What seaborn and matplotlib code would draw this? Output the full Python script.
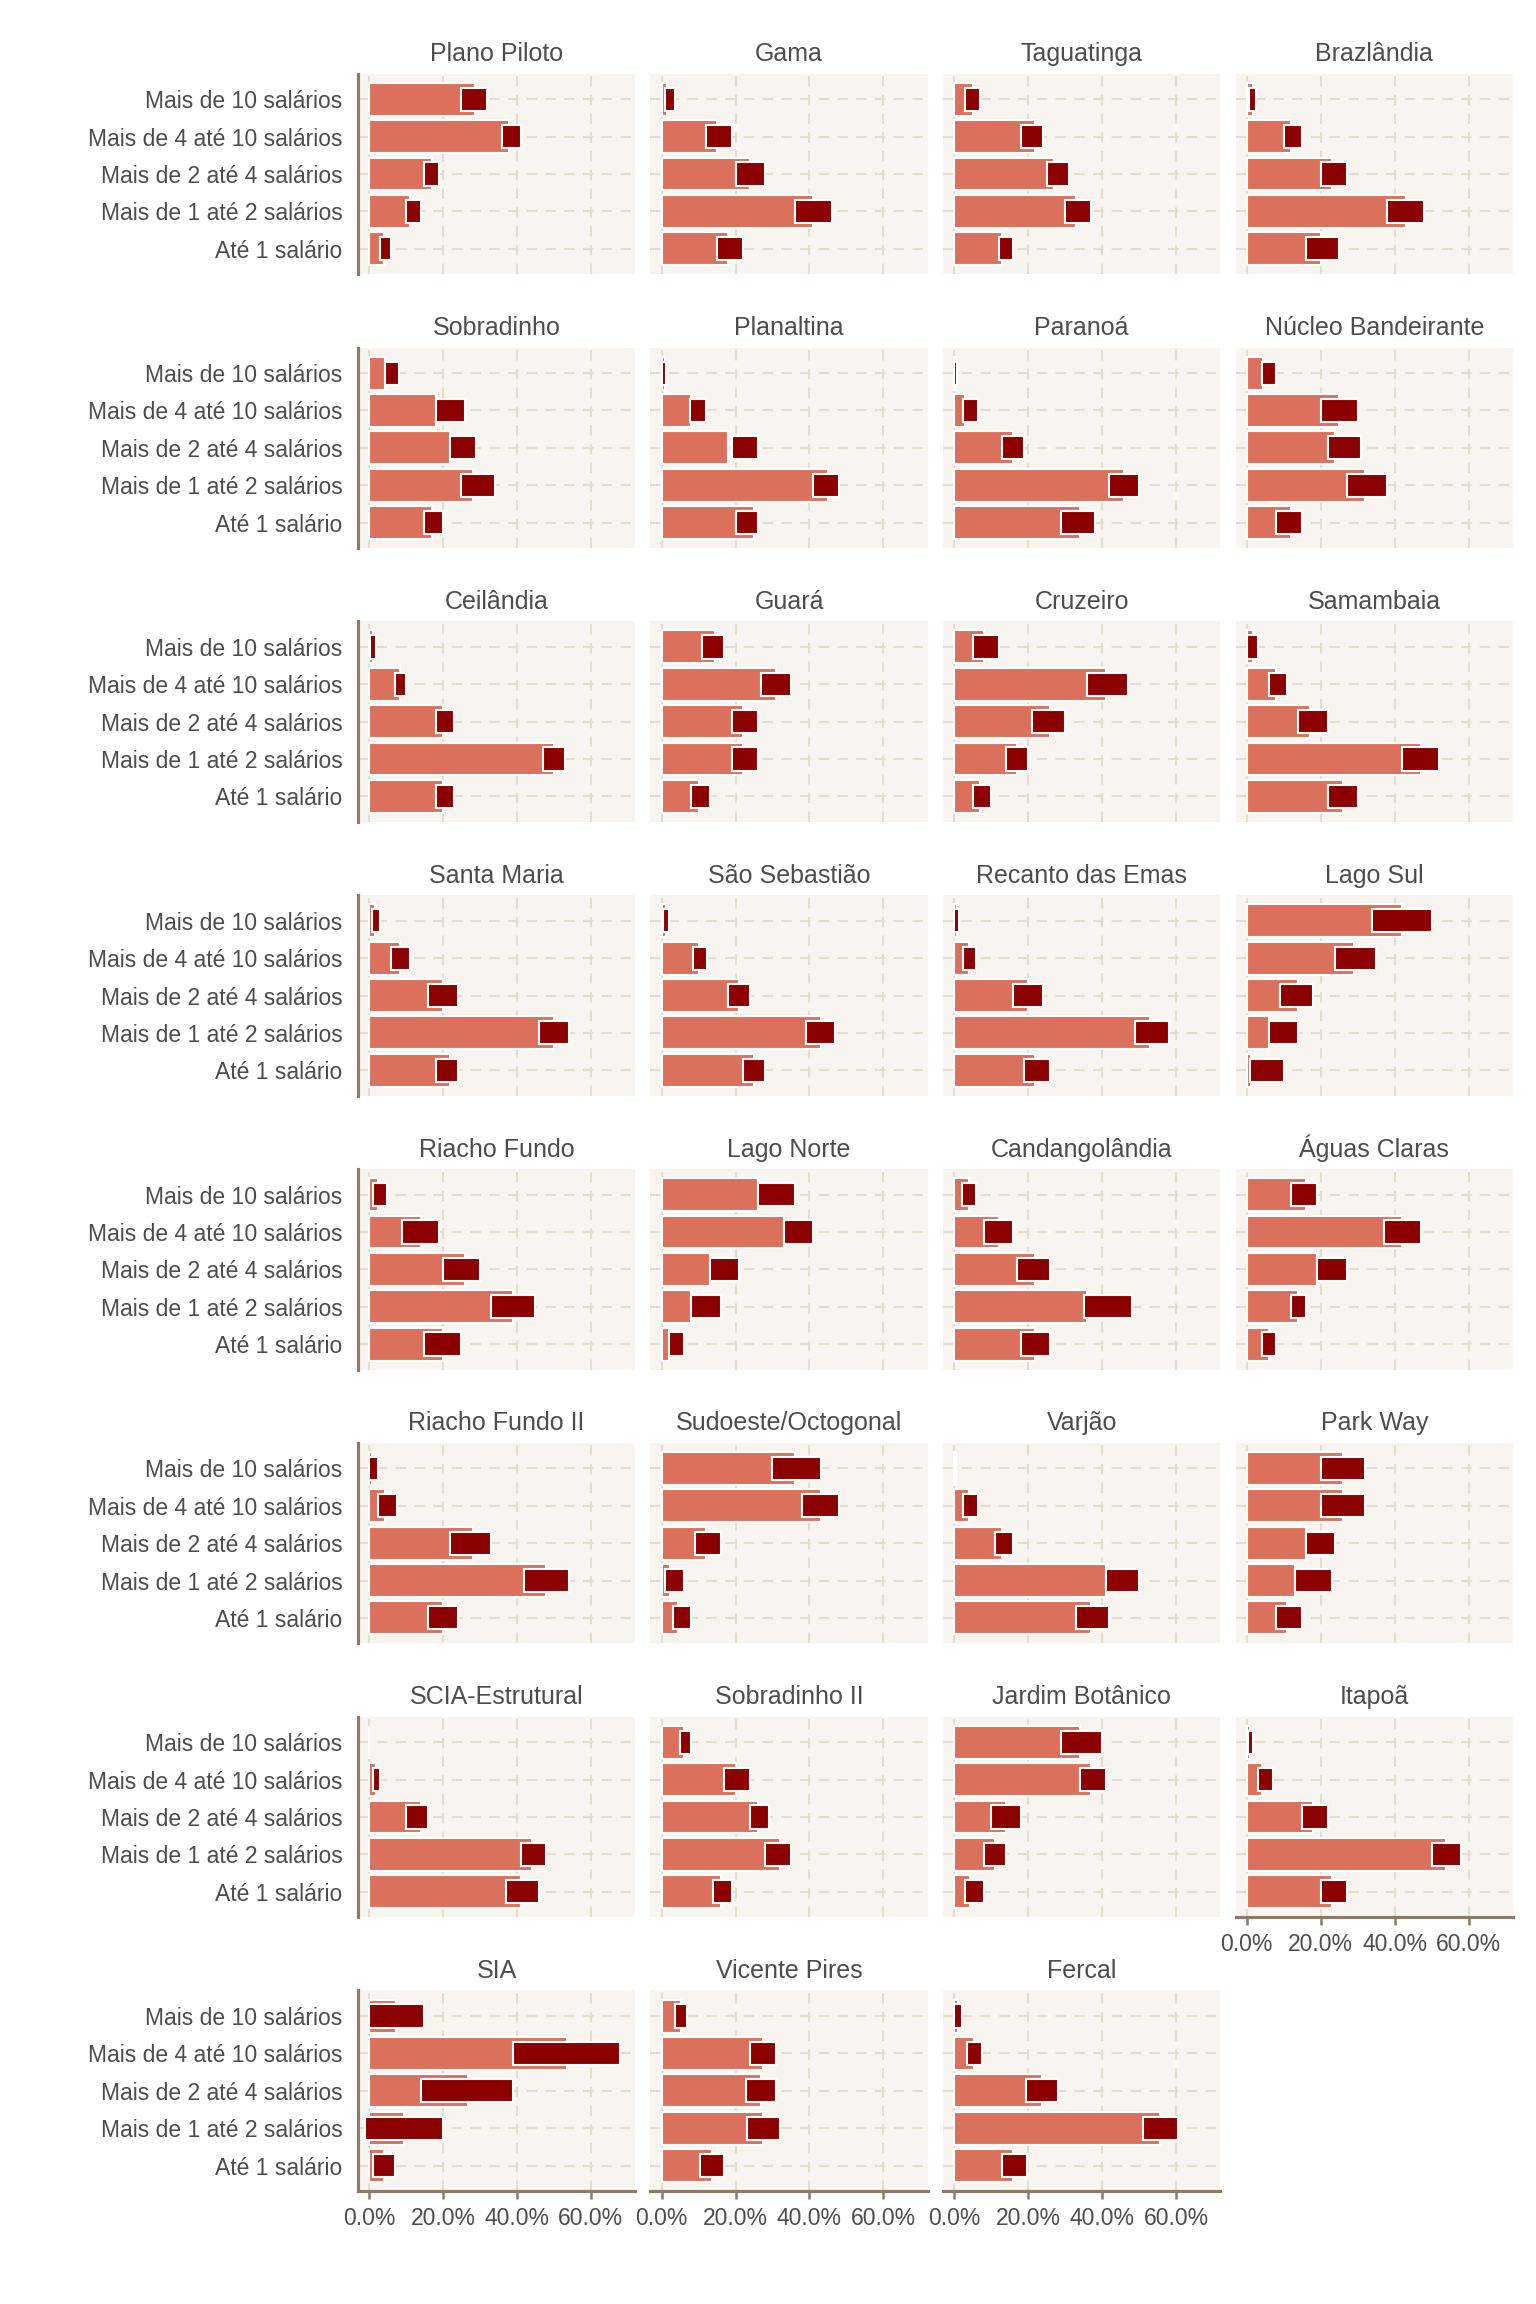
import pandas as pd
import seaborn as sns
import matplotlib.pyplot as plt
from matplotlib.ticker import FuncFormatter

# faixas de renda (de cima para baixo no gráfico)
faixas = ["Mais de 10 salários", "Mais de 4 até 10 salários", "Mais de 2 até 4 salários",
          "Mais de 1 até 2 salários", "Até 1 salário"]

regioes = ["Plano Piloto", "Gama", "Taguatinga", "Brazlândia",
           "Sobradinho", "Planaltina", "Paranoá", "Núcleo Bandeirante",
           "Ceilândia", "Guará", "Cruzeiro", "Samambaia",
           "Santa Maria", "São Sebastião", "Recanto das Emas", "Lago Sul",
           "Riacho Fundo", "Lago Norte", "Candangolândia", "Águas Claras",
           "Riacho Fundo II", "Sudoeste/Octogonal", "Varjão", "Park Way",
           "SCIA-Estrutural", "Sobradinho II", "Jardim Botânico", "Itapoã",
           "SIA", "Vicente Pires", "Fercal"]

# proporção estimada (%), mesma ordem de faixas
prop = [
    [28.8, 38, 17, 11, 4], [1.6, 15, 24, 41, 18], [5, 22, 27, 33, 13], [1.6, 12, 23, 43, 20],
    [4.4, 18, 22, 28, 17], [0.8, 8, 18, 45, 25], [0.4, 3, 16, 46, 34], [4.4, 25, 24, 32, 12],
    [1.2, 8.4, 20, 50, 20], [14.4, 31, 22, 22, 10], [8, 41, 26, 17, 7], [1.6, 8, 17, 47, 26],
    [1.6, 8.4, 20, 50, 22], [1.2, 10, 21, 43, 25], [0.8, 4, 20, 53, 22], [42, 29, 14, 6, 1.2],
    [2.4, 14, 26, 39, 20], [26, 33, 13, 8, 2], [4, 12, 22, 36, 22], [16, 42, 19, 14, 6],
    [0.8, 4.4, 28, 48, 20], [36, 43, 12, 2.4, 4.4], [0.4, 4, 13, 41, 37], [26, 26, 16, 13, 11],
    [0, 2, 14, 44, 41], [6, 20, 26, 32, 16], [34, 37, 14, 11, 4.4], [0.8, 4, 18, 54, 23],
    [7.2, 53.6, 26.7, 9.6, 4], [5.3, 27.5, 27, 27.5, 13.6], [1, 5.3, 23.7, 55.7, 16],
]
# limite inferior do intervalo (%)
ic_inf = [
    [25, 36, 15, 10, 3], [1, 12, 20, 36, 15], [3, 18, 25, 30, 12], [0.5, 10, 20, 38, 16],
    [4.4, 18, 22, 25, 15], [0, 7.6, 19, 41, 20], [0, 2.4, 13, 42, 29], [4, 20, 22, 27, 8],
    [0.4, 7, 18, 47, 18], [11, 27, 19, 19, 8], [5, 36, 21, 14, 5], [0, 6, 14, 42, 22],
    [0.8, 6, 16, 46, 18], [0.4, 8.4, 18, 39, 22], [0, 2.4, 16, 49, 19], [34, 24, 9, 6, 1],
    [1, 9, 20, 33, 15], [26, 33, 13, 8, 2], [2, 8, 17, 35, 18], [12, 37, 19, 12, 4],
    [0, 2.4, 22, 42, 16], [30, 38, 9, 1, 3], [0, 2.4, 11, 41, 33], [20, 20, 16, 13, 8],
    [0, 1, 10, 41, 37], [5, 17, 24, 28, 14], [29, 34, 10, 8, 3], [0.4, 3, 15, 50, 20],
    [0, 39, 14, -1, 1], [3.7, 24, 22.7, 23, 10.4], [0, 3.5, 19.5, 51, 13],
]
# limite superior do intervalo (%)
ic_sup = [
    [32, 41, 19, 14, 6], [3.6, 19, 28, 46, 22], [7, 24, 31, 37, 16], [2.4, 15, 27, 48, 25],
    [8, 26, 29, 34, 20], [1.2, 12, 26, 48, 26], [0.8, 6.4, 19, 50, 38], [8, 30, 31, 38, 15],
    [2, 10, 23, 53, 23], [17, 35, 26, 26, 13], [12, 47, 30, 20, 10], [3, 11, 22, 52, 30],
    [3, 11, 24, 54, 24], [2, 12.4, 24, 47, 28], [1.2, 6, 24, 58, 26], [50, 35, 18, 14, 10],
    [5, 19, 30, 45, 25], [36, 41, 21, 16, 6], [6, 16, 26, 48, 26], [19, 47, 27, 16, 8],
    [2.4, 7.6, 33, 54, 24], [43, 48, 16, 6, 8], [0.4, 6.4, 16, 50, 42], [32, 32, 24, 23, 15],
    [0, 3, 16, 48, 46], [8, 24, 29, 35, 19], [40, 41, 18, 14, 8], [1.6, 7, 22, 58, 27],
    [15, 68, 39, 20, 7], [7, 31, 31, 32, 16.8], [2, 7.5, 28, 60.5, 19.7],
]

rows = []
for i, reg in enumerate(regioes):
    for j, fx in enumerate(faixas):
        rows.append({"regiao": reg, "faixa": fx, "prop": prop[i][j],
                     "inf": ic_inf[i][j], "sup": ic_sup[i][j]})
df = pd.DataFrame(rows)

TXT = "#4D4D4D"
SPINE = "#8C7B68"
sns.set_theme(style="white")
plt.rcParams["font.family"] = ["Liberation Sans", "DejaVu Sans"]

g = sns.FacetGrid(df, col="regiao", col_order=regioes, col_wrap=4,
                  sharex=True, sharey=True, height=2.0, aspect=1.3)

ordem = faixas[::-1]  # primeira categoria fica embaixo


def desenha(data, **kws):
    ax = plt.gca()
    d = data.set_index("faixa").loc[ordem]
    ax.barh(ordem, d["prop"], height=0.88, color="#DB715C", zorder=2)
    ax.barh(ordem, d["sup"] - d["inf"], left=d["inf"], height=0.62,
            color="#8B0000", zorder=3)


g.map_dataframe(desenha)
g.set_titles("{col_name}", size=12, color=TXT)
g.set_axis_labels("", "")
g.set(xlim=(-3, 72), xticks=[0, 20, 40, 60])

for ax in g.axes.flat:
    ax.set_facecolor("#F8F5F0")
    ax.grid(True, linestyle=(0, (5, 4)), color="#E3DDCB", linewidth=1, zorder=0)
    ax.set_axisbelow(True)
    for s in ["top", "right"]:
        ax.spines[s].set_visible(False)
    for s in ["left", "bottom"]:
        ax.spines[s].set_color(SPINE)
        ax.spines[s].set_linewidth(1.5)
    ax.xaxis.set_major_formatter(FuncFormatter(lambda v, p: f"{v:.1f}%"))
    ax.tick_params(axis="both", colors=SPINE, labelcolor=TXT, labelsize=11,
                   length=4, width=1.2)

ncol = 4
n = len(regioes)
for k, ax in enumerate(g.axes.flat):
    primeira_col = k % ncol == 0
    ultima = k + ncol >= n
    ax.spines["left"].set_visible(primeira_col)
    if not primeira_col:
        ax.tick_params(axis="y", left=False, labelleft=False)
    ax.spines["bottom"].set_visible(ultima)
    if ultima:
        ax.tick_params(axis="x", bottom=True, labelbottom=True)
    else:
        ax.tick_params(axis="x", bottom=False, labelbottom=False)

g.figure.set_size_inches(10.24, 15.36)
g.figure.subplots_adjust(left=0.233, right=0.985, top=0.968, bottom=0.049,
                         wspace=0.055, hspace=0.365)
g.figure.savefig("out.png", dpi=150, facecolor="white")
